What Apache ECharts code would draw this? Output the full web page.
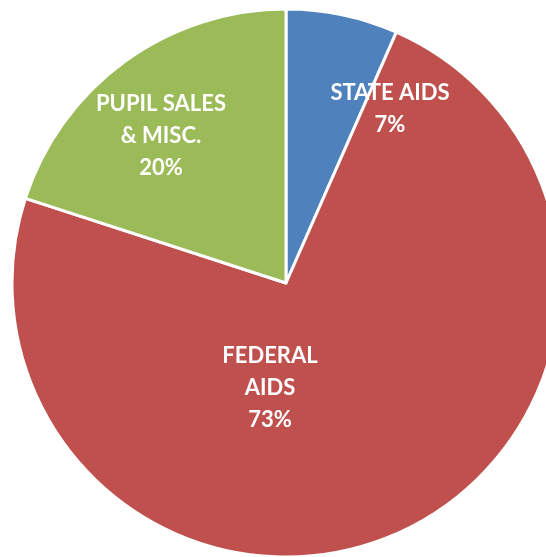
<!DOCTYPE html>
<html>
<head>
<meta charset="utf-8">
<script src="https://cdn.jsdelivr.net/npm/echarts@6/dist/echarts.min.js"></script>
<style>
    html, body { margin: 0; padding: 0; background: #fff; }
    #chart-pie { width: 546px; height: 557px; }
</style>
</head>
<body>
<div id="chart-pie"></div>
<script>
// slice data (clockwise from 12 o'clock)
const categories = ['STATE AIDS', 'FEDERAL\nAIDS', 'PUPIL SALES\n& MISC.'];
const values = [6.6, 73.4, 20.0];
const colors = ['#4f81bd', '#c0504d', '#9bbb59'];

// where the labels sit in the picture
const labelSpots = [[390, 109], [270, 388], [161, 136]];

let p_chart = echarts.init(document.getElementById('chart-pie'));

var p_option = {
    animation: false,
    series: [{
        type: 'pie',
        center: [286, 283],
        radius: 274,
        startAngle: 90,
        clockwise: true,
        percentPrecision: 0,
        itemStyle: {
            borderColor: '#fff',
            borderWidth: 3
        },
        label: {
            show: true,
            position: 'inside',
            formatter: '{b}\n{d}%',
            color: '#fff',
            fontFamily: 'Lato',
            fontWeight: 'bold',
            fontSize: 22,
            lineHeight: 32,
            align: 'center'
        },
        labelLayout: function (params) {
            let p = labelSpots[params.dataIndex];
            return { x: p[0], y: p[1], align: 'center', verticalAlign: 'middle' };
        },
        emphasis: { disabled: true },
        data: categories.map((name, i) => ({
            name: name,
            value: values[i],
            itemStyle: { color: colors[i] }
        }))
    }]
};

p_chart.setOption(p_option);
</script>
</body>
</html>
